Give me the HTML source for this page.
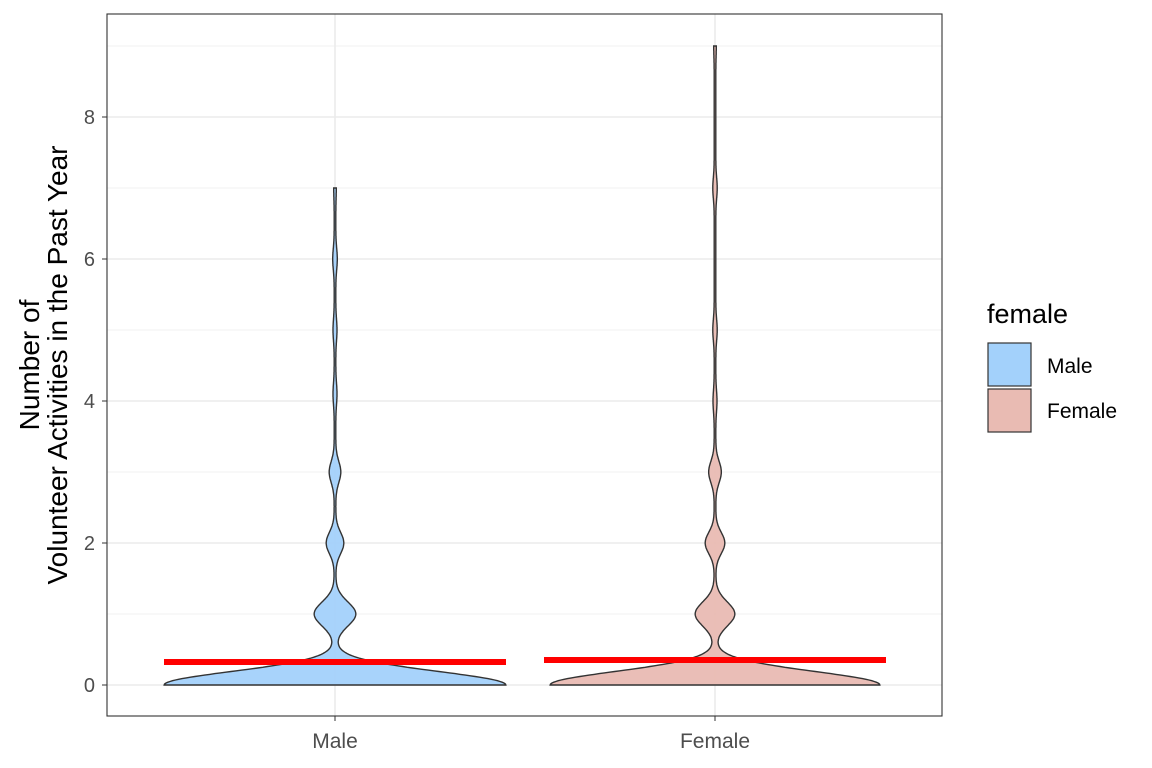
<!DOCTYPE html>
<html><head><meta charset="utf-8"><style>
body{margin:0;background:#fff;}
svg{display:block;font-family:"Liberation Sans",Arial,sans-serif;}
</style></head><body>
<svg id="s" width="1152" height="768" viewBox="0 0 1152 768" xmlns="http://www.w3.org/2000/svg">
<rect width="1152" height="768" fill="#fff"/>
<g stroke="#ebebeb" stroke-width="0.8">
<line x1="107" x2="942" y1="614" y2="614"/><line x1="107" x2="942" y1="472" y2="472"/>
<line x1="107" x2="942" y1="330" y2="330"/><line x1="107" x2="942" y1="188" y2="188"/>
<line x1="107" x2="942" y1="46" y2="46"/>
</g>
<g stroke="#ebebeb" stroke-width="1.6">
<line x1="107" x2="942" y1="685" y2="685"/><line x1="107" x2="942" y1="543" y2="543"/>
<line x1="107" x2="942" y1="401" y2="401"/><line x1="107" x2="942" y1="259" y2="259"/>
<line x1="107" x2="942" y1="117" y2="117"/>
<line x1="335" x2="335" y1="14" y2="716"/><line x1="715" x2="715" y1="14" y2="716"/>
</g>
<path id="vm" fill="#a3d1fb" fill-opacity="0.95" stroke="#333" stroke-width="1.4"/>
<path id="vf" fill="#e9bbb3" fill-opacity="0.95" stroke="#333" stroke-width="1.4"/>
<rect x="164" y="659" width="342" height="6" fill="#ff0000"/>
<rect x="544" y="657" width="342" height="6" fill="#ff0000"/>
<rect x="107" y="14" width="835" height="702" fill="none" stroke="#333" stroke-width="1.1"/>
<g fill="#4d4d4d" font-size="20" text-anchor="end">
<text x="95" y="692">0</text><text x="95" y="550">2</text><text x="95" y="408">4</text>
<text x="95" y="266">6</text><text x="95" y="124">8</text>
</g>
<g stroke="#333" stroke-width="1"><line x1="102" x2="107" y1="685" y2="685"/><line x1="102" x2="107" y1="543" y2="543"/><line x1="102" x2="107" y1="401" y2="401"/><line x1="102" x2="107" y1="259" y2="259"/><line x1="102" x2="107" y1="117" y2="117"/><line x1="335" x2="335" y1="716" y2="721"/><line x1="715" x2="715" y1="716" y2="721"/></g>
<g fill="#4d4d4d" font-size="21" text-anchor="middle">
<text x="335" y="748">Male</text><text x="715" y="748">Female</text>
</g>
<g font-size="28" text-anchor="middle" fill="#000">
<text transform="translate(39,365) rotate(-90)">Number of</text>
<text transform="translate(67,365) rotate(-90)">Volunteer Activities in the Past Year</text>
</g>
<text x="987" y="323" font-size="27">female</text>
<rect x="988" y="343" width="43" height="43" fill="#a3d1fb" stroke="#333" stroke-width="1.2"/>
<rect x="988" y="389" width="43" height="43" fill="#e9bbb3" stroke="#333" stroke-width="1.2"/>
<text x="1047" y="373" font-size="21">Male</text>
<text x="1047" y="418" font-size="21">Female</text>
<script>
function prof(cx,comps,top,id){
 var L=[],R=[];
 for(var v=0;v<=top+1e-9;v+=0.01){
  var h=0.8;
  comps.forEach(function(c){h+=c[1]*Math.exp(-Math.pow(v-c[0],2)/(2*c[2]*c[2]));});
  var y=685-71*v;
  L.push((cx-h).toFixed(1)+","+y.toFixed(1));R.push((cx+h).toFixed(1)+","+y.toFixed(1));
 }
 document.getElementById(id).setAttribute("d","M"+L.join("L")+"L"+R.reverse().join("L")+"Z");
}
prof(335,[[0,170,0.19],[1,20,0.17],[2,8,0.15],[3,5,0.15],[4.1,1.2,0.15],[5,1.2,0.15],[6,1.5,0.15],[7,0.5,0.15]],7,"vm");
prof(715,[[0,164,0.19],[1,19,0.17],[2,9,0.15],[3,5.5,0.15],[4,1.2,0.15],[5,1.4,0.15],[7,1.4,0.15],[9,0.5,0.15]],9,"vf");
</script>
</svg>
</body></html>
